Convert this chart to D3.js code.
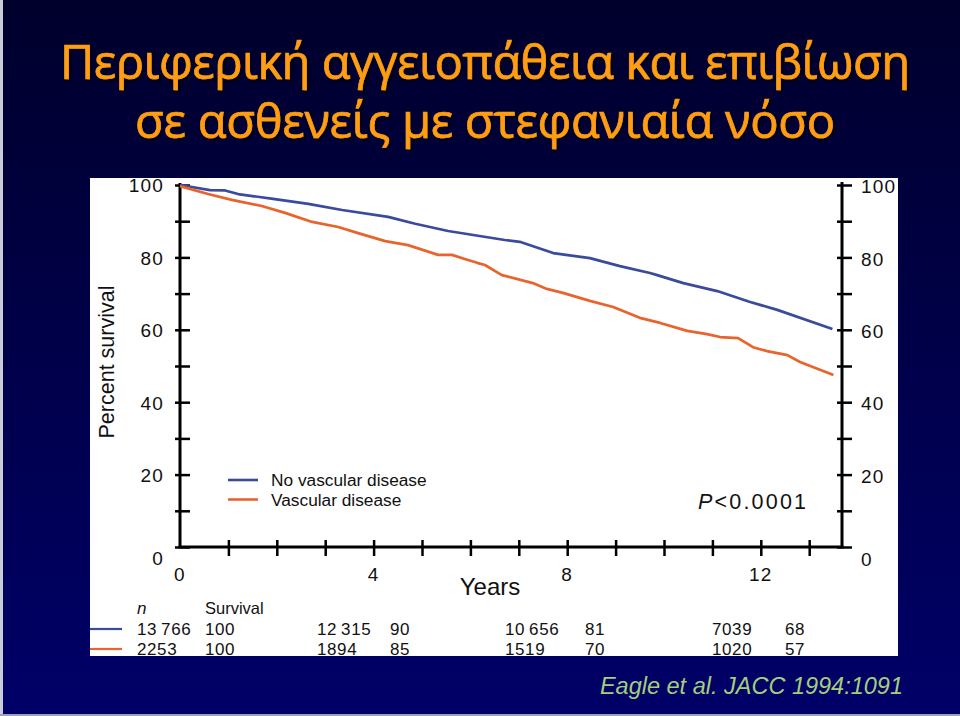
<!DOCTYPE html>
<html><head><meta charset="utf-8">
<script src="https://cdn.jsdelivr.net/npm/d3@7"></script>
<style>html,body{margin:0;padding:0;background:#00003a;}svg{display:block}</style>
</head><body>
<svg id="chart" width="960" height="716"></svg>
<script>
// ---------- data ----------
const titleLines = ["Περιφερική αγγειοπάθεια και επιβίωση", "σε ασθενείς με στεφανιαία νόσο"];
const citation = "Eagle et al. JACC 1994:1091";
const seriesNames = ["No vascular disease", "Vascular disease"];
// [years, percent survival]
const noVascular = [[0,100],[0.62,98.6],[0.93,98.5],[1.2,97.5],[1.96,96.1],[2.65,94.8],[3.35,93.1],[4.3,91.2],[4.86,89.3],[5.54,87.3],[6.71,84.8],[7.02,84.3],[7.71,81.2],[8.47,79.8],[9.09,77.6],[9.71,75.7],[9.86,75.1],[10.4,72.9],[11.1,70.7],[11.78,67.7],[12.34,65.5],[13.48,60.2]];
const vascular = [[0,99.7],[0.58,97.5],[1.07,95.9],[1.69,94.2],[2.17,92.3],[2.73,89.8],[3.27,88.4],[3.68,86.7],[4.24,84.5],[4.71,83.4],[5.33,80.7],[5.62,80.7],[5.95,79.3],[6.14,78.5],[6.3,77.9],[6.65,75.1],[7.29,72.9],[7.58,71.3],[7.91,70.2],[8.47,68.0],[8.95,66.3],[9.5,63.3],[9.92,61.9],[10.48,59.7],[10.89,58.8],[11.16,58.0],[11.53,57.7],[11.84,55.2],[12.13,54.1],[12.55,53.0],[12.81,51.1],[13.5,47.5]];
const yMajorTicks = [0,20,40,60,80,100];
const yMinorTicks = [10,30,50,70,90];
const xTicks = [1,2,3,4,5,6,7,8,9,10,11,12,13];
const xTickLabels = [0,4,8,12];
const tableTimes = [0,4,8,12];
const noVascN = ["13\u2009766","12\u2009315","10\u2009656","7039"];
const noVascSurv = [100,90,81,68];
const vascN = ["2253","1894","1519","1020"];
const vascSurv = [100,85,70,57];
const pValueText = "<0.0001";

// ---------- layout ----------
const colors = {blue:"#3a4b9c", orange:"#e8642c", title:"#ff9e12", cite:"#a3cf7a"};
const panel = {x:90, y:178, w:808, h:478};
const tableNX = [137,317,505,712];
const tableSX = [205,390,585,785];
const chartFont = "'Liberation Sans', Arial, sans-serif";

const svg = d3.select("#chart");
const defs = svg.append("defs");
const grad = defs.append("linearGradient").attr("id","bg").attr("x1",0).attr("y1",0).attr("x2",0).attr("y2",1);
grad.append("stop").attr("offset","0%").attr("stop-color","#00002c");
grad.append("stop").attr("offset","100%").attr("stop-color","#000068");
defs.append("clipPath").attr("id","pclip").append("rect")
  .attr("x",panel.x).attr("y",panel.y).attr("width",panel.w).attr("height",panel.h);
const shadow = defs.append("filter").attr("id","tshadow").attr("x","-5%").attr("y","-20%").attr("width","110%").attr("height","150%");
shadow.append("feDropShadow").attr("dx",2).attr("dy",2).attr("stdDeviation",0.8)
  .attr("flood-color","#000008").attr("flood-opacity",0.9);

svg.append("rect").attr("width",960).attr("height",716).attr("fill","url(#bg)");
svg.append("rect").attr("x",0).attr("y",0).attr("width",3).attr("height",716).attr("fill","#c9cbd6");
svg.append("rect").attr("x",0).attr("y",714).attr("width",960).attr("height",2).attr("fill","#9da0b8");

// title
const tg = svg.append("g").attr("font-family","'Open Sans', 'Noto Sans', sans-serif").attr("font-size",47)
  .attr("text-anchor","middle").attr("filter","url(#tshadow)");
const titleY = [79, 138];
const titleW = [850, 700];
titleLines.forEach((t,i)=>{
  tg.append("text").attr("x",485).attr("y",titleY[i]).attr("fill",colors.title)
    .attr("stroke",colors.title).attr("stroke-width",0.7)
    .attr("textLength",titleW[i]).attr("lengthAdjust","spacing").text(t);
});

// citation
svg.append("text").attr("x",903).attr("y",694).attr("text-anchor","end")
  .attr("font-family",chartFont).attr("font-style","italic").attr("font-size",23.5)
  .attr("fill",colors.cite).text(citation);

// panel
svg.append("rect").attr("x",panel.x).attr("y",panel.y).attr("width",panel.w).attr("height",panel.h).attr("fill","#ffffff");
const g = svg.append("g").attr("clip-path","url(#pclip)").attr("font-family",chartFont);

const x = d3.scaleLinear().domain([0,13]).range([180,809.2]);
const y = d3.scaleLinear().domain([0,100]).range([547,185]);
const xEnd = 842;

// y axis left
const yAxL = g.append("g").attr("transform","translate(180,0)")
  .call(d3.axisLeft(y).tickValues(yMajorTicks.concat(yMinorTicks)).tickSize(5).tickSizeOuter(0)
        .tickFormat(d=>yMajorTicks.includes(d)?d:""));
yAxL.select(".domain").attr("stroke","#000").attr("stroke-width",3).attr("d","M0,183V548");
yAxL.selectAll(".tick line").attr("x1",-5).attr("x2",10).attr("stroke-width",2.5);
yAxL.selectAll(".tick text").attr("x",-16).attr("font-size",19).attr("letter-spacing",1.2)
  .attr("font-family",chartFont).attr("fill","#111")
  .attr("dy",d=>d===0?"0.9em":"0.36em");

// y axis right
const yAxR = g.append("g").attr("transform",`translate(${xEnd},0)`)
  .call(d3.axisRight(y).tickValues(yMajorTicks.concat(yMinorTicks)).tickSize(10).tickSizeOuter(0)
        .tickFormat(d=>yMajorTicks.includes(d)?d:""));
yAxR.select(".domain").attr("stroke","#000").attr("stroke-width",3).attr("d","M0,182V548");
yAxR.selectAll(".tick line").attr("x1",-5).attr("x2",10).attr("stroke-width",2.5);
yAxR.selectAll(".tick text").attr("x",19).attr("font-size",19).attr("letter-spacing",1.2)
  .attr("font-family",chartFont).attr("fill","#111")
  .attr("dy",d=>d===0?"0.98em":"0.4em");

// x axis
const xAx = g.append("g").attr("transform","translate(0,547)")
  .call(d3.axisBottom(x).tickValues(xTicks).tickSize(9).tickSizeOuter(0).tickFormat(""));
xAx.select(".domain").attr("stroke","#000").attr("stroke-width",3).attr("d",`M178.5,0H${xEnd+1.5}`);
xAx.selectAll(".tick line").attr("y1",-7).attr("y2",9).attr("stroke-width",2.5);
g.append("g").selectAll("text").data(xTickLabels).join("text")
  .attr("x",d=>x(d)).attr("y",581).attr("text-anchor","middle").attr("font-size",19)
  .attr("letter-spacing",1.2).attr("fill","#111").text(d=>d);

// axis titles
g.append("text").attr("x",490).attr("y",595).attr("text-anchor","middle").attr("font-size",24).attr("fill","#111").text("Years");
g.append("text").attr("transform","translate(114,362) rotate(-90)").attr("text-anchor","middle")
  .attr("font-size",21.5).attr("fill","#111").text("Percent survival");

// curves
const line = d3.line().x(d=>x(d[0])).y(d=>y(d[1]));
g.append("path").datum(noVascular).attr("d",line).attr("fill","none").attr("stroke",colors.blue).attr("stroke-width",2.7).attr("stroke-linejoin","round");
g.append("path").datum(vascular).attr("d",line).attr("fill","none").attr("stroke",colors.orange).attr("stroke-width",2.7).attr("stroke-linejoin","round");

// legend
const lg = g.append("g");
[colors.blue, colors.orange].forEach((c,i)=>{
  const ly = 480 + i*19.5;
  lg.append("line").attr("x1",228).attr("x2",258).attr("y1",ly).attr("y2",ly).attr("stroke",c).attr("stroke-width",2.6);
  lg.append("text").attr("x",271).attr("y",ly+6).attr("font-size",17.3).attr("fill","#111").text(seriesNames[i]);
});

// p-value
const pt = g.append("text").attr("x",698).attr("y",509).attr("font-size",21.5).attr("fill","#111")
  .attr("textLength",108).attr("lengthAdjust","spacing");
pt.append("tspan").attr("font-style","italic").text("P");
pt.append("tspan").text(pValueText);

// at-risk table
const tb = g.append("g").attr("font-size",17).attr("fill","#111");
tb.append("text").attr("x",137).attr("y",614).attr("font-style","italic").text("n");
tb.append("text").attr("x",205).attr("y",614).attr("font-size",16.5).text("Survival");
const rows = [{c:colors.blue,n:noVascN,s:noVascSurv,y:635},{c:colors.orange,n:vascN,s:vascSurv,y:655}];
rows.forEach(r=>{
  tb.append("line").attr("x1",90).attr("x2",122).attr("y1",r.y-6).attr("y2",r.y-6).attr("stroke",r.c).attr("stroke-width",2.2);
  tableTimes.forEach((t,i)=>{
    tb.append("text").attr("x",tableNX[i]).attr("y",r.y).attr("letter-spacing",0.6).text(r.n[i]);
    tb.append("text").attr("x",tableSX[i]).attr("y",r.y).attr("letter-spacing",0.6).text(r.s[i]);
  });
});
</script>
</body></html>
